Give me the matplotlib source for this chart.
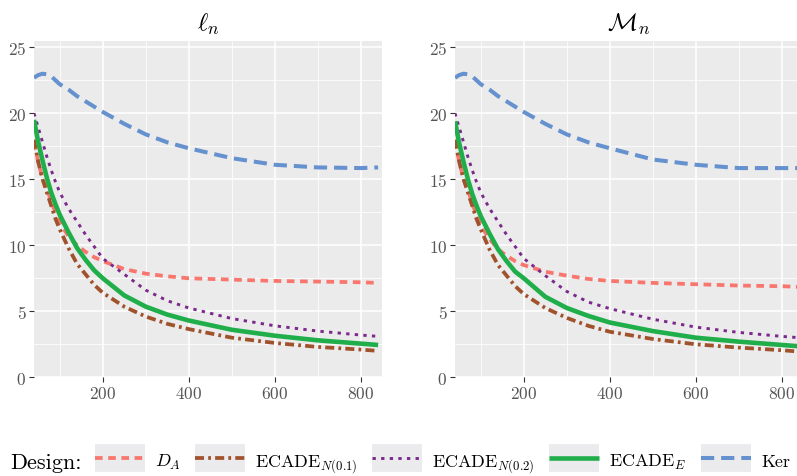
import matplotlib
matplotlib.use("Agg")
import matplotlib.pyplot as plt
from matplotlib.lines import Line2D
from matplotlib.legend_handler import HandlerTuple
from matplotlib.ticker import MultipleLocator

plt.rcParams["font.family"] = "serif"
plt.rcParams["font.serif"] = ["cmr10"]
plt.rcParams["mathtext.fontset"] = "cm"
plt.rcParams["axes.formatter.use_mathtext"] = True
plt.rcParams["lines.scale_dashes"] = False

n = [40, 50, 60, 70, 80, 90, 100, 120, 140, 160, 180, 200, 250, 300, 350,
     400, 500, 600, 700, 800, 840]

# left panel: l_n
l_da = [17.8, 16.3, 15.0, 14.3, 13.3, 12.5, 11.7, 10.7, 10.0, 9.5, 9.1, 8.8,
        8.2, 7.85, 7.65, 7.5, 7.4, 7.3, 7.25, 7.2, 7.15]
l_n01 = [18.0, 16.3, 15.0, 14.0, 13.0, 12.0, 11.2, 9.8, 8.6, 7.8, 7.0, 6.4,
         5.35, 4.6, 4.05, 3.65, 3.0, 2.6, 2.3, 2.1, 2.0]
l_n02 = [20.0, 18.9, 17.8, 16.7, 15.7, 14.8, 14.0, 12.8, 11.8, 10.8, 9.9, 9.0,
         7.8, 6.6, 5.8, 5.25, 4.45, 3.9, 3.5, 3.2, 3.1]
l_e = [19.5, 17.8, 16.4, 15.1, 14.0, 13.1, 12.3, 11.0, 9.8, 8.9, 8.1, 7.5,
       6.2, 5.35, 4.75, 4.3, 3.6, 3.15, 2.8, 2.55, 2.45]
l_ker = [22.7, 22.9, 23.0, 22.95, 22.8, 22.5, 22.2, 21.8, 21.3, 20.9, 20.5,
         20.1, 19.2, 18.4, 17.8, 17.35, 16.6, 16.1, 15.9, 15.85, 15.9]

# right panel: M_n
m_da = [17.9, 16.3, 15.0, 14.2, 13.2, 12.3, 11.5, 10.5, 9.7, 9.2, 8.8, 8.5,
        8.0, 7.7, 7.45, 7.3, 7.15, 7.05, 6.95, 6.9, 6.85]
m_n01 = [18.0, 16.3, 15.0, 14.0, 13.0, 12.0, 11.2, 9.7, 8.5, 7.7, 6.9, 6.3,
         5.25, 4.5, 3.9, 3.45, 2.9, 2.5, 2.25, 2.05, 1.95]
m_n02 = [20.0, 18.9, 17.8, 16.7, 15.7, 14.8, 14.0, 12.8, 11.8, 10.8, 9.9, 9.0,
         7.7, 6.5, 5.7, 5.2, 4.4, 3.8, 3.4, 3.1, 3.0]
m_e = [19.4, 17.7, 16.3, 15.0, 13.9, 13.0, 12.2, 10.9, 9.7, 8.8, 8.0, 7.5,
       6.1, 5.25, 4.65, 4.15, 3.5, 3.0, 2.7, 2.45, 2.35]
m_ker = [22.7, 22.9, 23.0, 22.95, 22.8, 22.5, 22.2, 21.8, 21.3, 20.9, 20.5,
         20.1, 19.2, 18.4, 17.8, 17.35, 16.5, 16.1, 15.85, 15.85, 15.85]

labels = [r"$D_A$", r"ECADE$_{N(0.1)}$", r"ECADE$_{N(0.2)}$", r"ECADE$_E$", "Ker"]
colors = ["#f8766d", "#a0522d", "#7b2a8c", "#1fae4a", "#6591cf"]
styles = [
    dict(lw=2.7, dashes=(5.5, 4.0)),
    dict(lw=2.7, dashes=(6.5, 3.0, 2.0, 3.0)),
    dict(lw=2.1, dashes=(2.4, 3.8)),
    dict(lw=3.3, ls="-"),
    dict(lw=2.9, dashes=(9.5, 5.0)),
]

fig = plt.figure(figsize=(7.97, 4.77), dpi=100)
W, H = 797.0, 477.0
ax1 = fig.add_axes([34 / W, 1 - 378.3 / H, 348 / W, 336.6 / H])
ax2 = fig.add_axes([455 / W, 1 - 378.3 / H, 348 / W, 336.6 / H])

panels = [(ax1, r"$\ell_n$", [l_da, l_n01, l_n02, l_e, l_ker]),
          (ax2, r"$\mathcal{M}_n$", [m_da, m_n01, m_n02, m_e, m_ker])]

for ax, title, series in panels:
    ax.set_facecolor("#ebebeb")
    for ys, c, st in zip(series, colors, styles):
        ax.plot(n, ys, color=c, solid_capstyle="butt", dash_capstyle="butt", **st)
    ax.set_xlim(40, 849)
    ax.set_ylim(0, 25.5)
    ax.xaxis.set_major_locator(MultipleLocator(200))
    ax.xaxis.set_minor_locator(MultipleLocator(100))
    ax.yaxis.set_major_locator(MultipleLocator(5))
    ax.yaxis.set_minor_locator(MultipleLocator(2.5))
    ax.grid(which="major", color="white", lw=1.1)
    ax.grid(which="minor", color="white", lw=0.55)
    ax.set_axisbelow(True)
    for s in ax.spines.values():
        s.set_visible(False)
    ax.tick_params(which="major", length=3.5, width=0.8, color="#333333",
                   labelcolor="#555555", labelsize=12.5, pad=2)
    ax.tick_params(which="minor", length=0)
    ax.set_title(title, fontsize=18, pad=8)

# legend keys: a fat grey stroke as the key box, the series line on top
handles = []
for c, st in zip(colors, styles):
    bg = Line2D([], [], color="#ebebee", lw=20, solid_capstyle="butt")
    ln = Line2D([], [], color=c, solid_capstyle="butt", dash_capstyle="butt", **st)
    handles.append((bg, ln))

fig.text(10 / W, 1 - 463 / H, "Design:", fontsize=16, va="center", ha="left",
         family=["cmr10", "DejaVu Serif"])
fig.legend(handles, labels, loc="center left", bbox_to_anchor=(95 / W, 1 - 463 / H),
           ncol=5, frameon=False, fontsize=13, handlelength=2.77, handleheight=1.55,
           handletextpad=0.55, columnspacing=0.8, borderpad=0, borderaxespad=0,
           handler_map={tuple: HandlerTuple(ndivide=1, pad=0)})

fig.savefig("out.png", dpi=100)
